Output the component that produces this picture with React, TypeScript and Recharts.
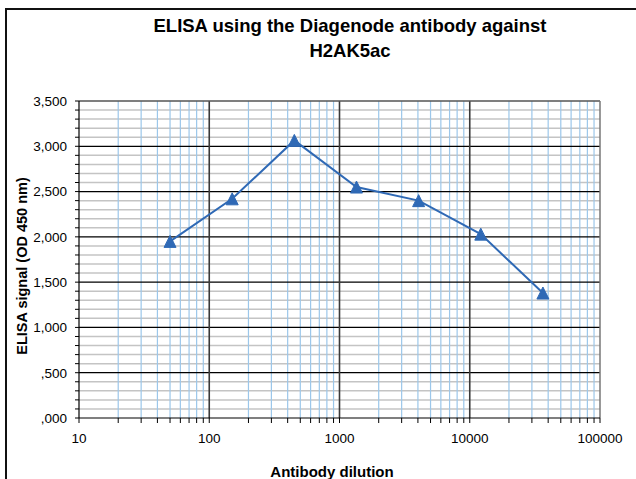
import React from 'react';
import { LineChart, Line, XAxis, YAxis, ReferenceLine } from 'recharts';

const dilutions = [50, 150, 450, 1350, 4050, 12150, 36450];
const signal = [1950, 2420, 3065, 2550, 2400, 2030, 1380];

const xMajorTicks = [10, 100, 1000, 10000, 100000];
const xMinorGrid = [
  20, 30, 40, 50, 60, 70, 80, 90,
  200, 300, 400, 500, 600, 700, 800, 900,
  2000, 3000, 4000, 5000, 6000, 7000, 8000, 9000,
  20000, 30000, 40000, 50000, 60000, 70000, 80000, 90000,
];
const xMajorGrid = [100, 1000, 10000];
const yMajorGrid = [500, 1000, 1500, 2000, 2500, 3000];
const yMinorGrid = [
  100, 200, 300, 400, 600, 700, 800, 900, 1100, 1200, 1300, 1400,
  1600, 1700, 1800, 1900, 2100, 2200, 2300, 2400, 2600, 2700, 2800, 2900,
  3100, 3200, 3300, 3400,
];
const yTickLabels: Record<number, string> = {
  0: ',000', 500: ',500', 1000: '1,000', 1500: '1,500', 2000: '2,000',
  2500: '2,500', 3000: '3,000', 3500: '3,500',
};

const title1 = 'ELISA using the Diagenode antibody against';
const title2 = 'H2AK5ac';
const xLabel = 'Antibody dilution';
const yLabel = 'ELISA signal (OD 450 nm)';

const data = dilutions.map((d, i) => ({ x: d, y: signal[i] }));
const xTicks = [...xMajorTicks, ...xMinorGrid].sort((a, b) => a - b);
const yTicks = [0, ...yMinorGrid, ...yMajorGrid, 3500].sort((a, b) => a - b);

const FONT = '"Liberation Sans", Arial, sans-serif';
const BLUE = '#2F69B5';

const Tri = (props: any) => {
  const { cx, cy } = props;
  if (cx == null || cy == null) return null;
  const w = 6, h = 6;
  return (
    <polygon
      key={`t-${cx}-${cy}`}
      points={`${cx - w},${cy + h} ${cx + w},${cy + h} ${cx},${cy - h}`}
      fill={BLUE}
      stroke={BLUE}
      strokeWidth={1}
    />
  );
};

export default function App() {
  return (
    <div style={{ position: 'absolute', left: 0, top: 0, width: 636, height: 479, overflow: 'hidden', background: '#fff', fontFamily: FONT }}>
      <div style={{ position: 'absolute', left: 5, top: 8, width: 700, height: 600, borderTop: '2px solid #111', borderLeft: '2px solid #111' }} />
      <div style={{ position: 'absolute', left: 0, top: 0 }}>
        <LineChart width={636} height={479} data={data} margin={{ top: 101, right: 36, bottom: 31, left: 19 }}>
          {yMinorGrid.map((v) => (
            <ReferenceLine key={`ym${v}`} y={v} stroke="#c4c4c4" strokeWidth={1.5} />
          ))}
          {xMinorGrid.map((v) => (
            <ReferenceLine key={`xm${v}`} x={v} stroke="#9cc7ea" strokeWidth={1.2} />
          ))}
          {yMajorGrid.map((v) => (
            <ReferenceLine key={`yM${v}`} y={v} stroke="#000" strokeWidth={1.2} />
          ))}
          {xMajorGrid.map((v) => (
            <ReferenceLine key={`xM${v}`} x={v} stroke="#3a3a3a" strokeWidth={1.6} />
          ))}
          <ReferenceLine y={3500} stroke="#555" strokeWidth={1.5} />
          <ReferenceLine x={100000} stroke="#777" strokeWidth={1.5} />
          <XAxis
            dataKey="x"
            type="number"
            scale="log"
            domain={[10, 100000]}
            ticks={xTicks}
            interval={0}
            allowDataOverflow
            height={30}
            tickSize={5}
            tickMargin={10}
            stroke="#000"
            tickLine={{ stroke: '#000' }}
            axisLine={{ stroke: '#000', strokeWidth: 1.2 }}
            tick={{ fill: '#000', fontSize: 13.5, fontFamily: FONT }}
            tickFormatter={(v: number) => (xMajorTicks.includes(v) ? String(v) : '')}
          />
          <YAxis
            type="number"
            domain={[0, 3500]}
            ticks={yTicks}
            interval={0}
            width={60}
            tickSize={4}
            tickMargin={8}
            stroke="#000"
            axisLine={{ stroke: '#000', strokeWidth: 1.2 }}
            tick={{ fill: '#000', fontSize: 13.5, fontFamily: FONT }}
            tickFormatter={(v: number) => yTickLabels[v] ?? ''}
          />
          <Line
            type="linear"
            dataKey="y"
            stroke={BLUE}
            strokeWidth={2}
            dot={<Tri />}
            activeDot={false}
            isAnimationActive={false}
          />
        </LineChart>
      </div>
      <div style={{ position: 'absolute', left: 50, width: 600, top: 13, textAlign: 'center', fontSize: 18.5, fontWeight: 'bold', lineHeight: '25px', color: '#000' }}>
        <div>{title1}</div>
        <div>{title2}</div>
      </div>
      <div style={{ position: 'absolute', left: 232, width: 200, top: 463, textAlign: 'center', fontSize: 15, fontWeight: 'bold', color: '#000' }}>
        {xLabel}
      </div>
      <div style={{ position: 'absolute', left: 22, top: 266, width: 0, height: 0 }}>
        <div style={{ position: 'absolute', left: -130, top: -10, width: 260, textAlign: 'center', fontSize: 14.5, fontWeight: 'bold', color: '#000', transform: 'rotate(-90deg)', lineHeight: '20px' }}>
          {yLabel}
        </div>
      </div>
    </div>
  );
}
